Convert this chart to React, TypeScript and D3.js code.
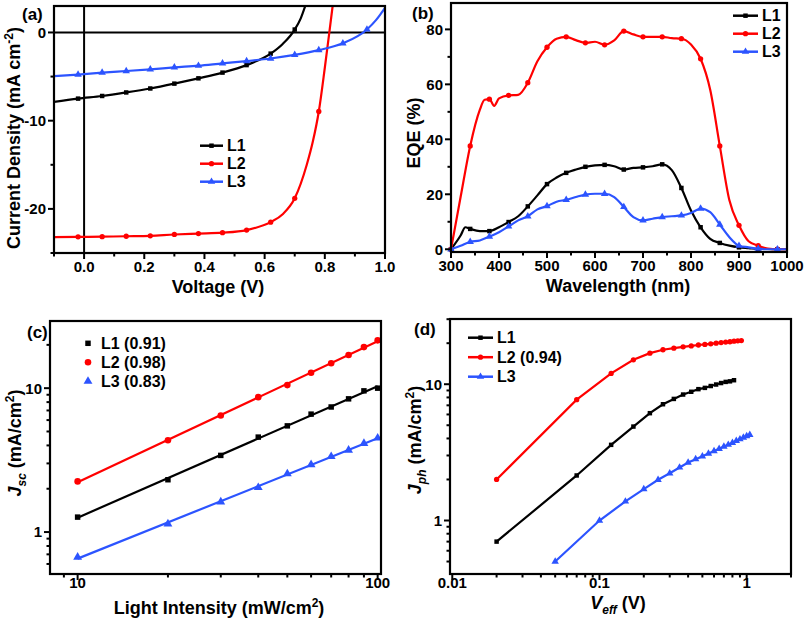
import React from 'react';
import * as d3 from 'd3';

const FONT = "'Liberation Sans', Arial, Helvetica, sans-serif";
const BLACK = '#000000';
const RED = '#ff0000';
const BLUE = '#2c54ff';
const SERIES_NAMES = ['L1', 'L2', 'L3'];
const SERIES_COLORS = [BLACK, RED, BLUE];
const SERIES_SHAPES = ['square', 'circle', 'triangle'];

// ---------- (a) J-V ----------
const jvMarkerV = [-0.02, 0.06, 0.14, 0.22, 0.3, 0.38, 0.46, 0.54, 0.62, 0.7, 0.78, 0.86, 0.94];
const jvL1V = [-0.1, -0.02, 0.06, 0.14, 0.22, 0.3, 0.38, 0.46, 0.54, 0.62, 0.66, 0.7, 0.72, 0.735];
const jvL1J = [-7.87, -7.5, -7.2, -6.8, -6.35, -5.8, -5.2, -4.55, -3.7, -2.4, -1.3, 0.33, 1.6, 3.0];
const jvL2V = [-0.1, -0.02, 0.06, 0.14, 0.22, 0.3, 0.38, 0.46, 0.54, 0.62, 0.66, 0.7, 0.74, 0.76, 0.78, 0.8, 0.815, 0.826];
const jvL2J = [-23.2, -23.17, -23.15, -23.1, -23.05, -22.9, -22.8, -22.7, -22.4, -21.5, -20.6, -18.8, -15.0, -12.4, -8.96, -4.0, 0, 3.0];
const jvL3V = [-0.1, -0.02, 0.06, 0.14, 0.22, 0.3, 0.38, 0.46, 0.54, 0.62, 0.7, 0.78, 0.86, 0.94, 0.97, 1.0];
const jvL3J = [-4.96, -4.78, -4.55, -4.37, -4.18, -3.96, -3.77, -3.5, -3.25, -2.95, -2.54, -2.0, -1.23, 0.34, 1.4, 2.8];
const aXMajor = [0, 0.2, 0.4, 0.6, 0.8, 1.0];
const aXMinor = [-0.1, 0.1, 0.3, 0.5, 0.7, 0.9];
const aYMajor = [0, -10, -20];
const aYMinor = [-5, -15, -25];

// ---------- (b) EQE ----------
const eqeMarkerWl = [300, 340, 380, 420, 460, 500, 540, 580, 620, 660, 700, 740, 780, 820, 860, 900, 940, 980];
const eqeL1Wl = [300, 320, 330, 340, 360, 380, 400, 420, 440, 460, 480, 500, 520, 540, 560, 580, 600, 620, 640, 660, 680, 700, 720, 740, 760, 780, 800, 820, 840, 860, 880, 900, 920, 940, 960, 980, 1000];
const eqeL1 = [0, 5, 8, 7.4, 6.6, 6.6, 8, 9.9, 12, 15.6, 19.6, 23.7, 26.1, 27.8, 29, 30, 30.5, 30.7, 30.2, 29, 29.6, 29.8, 30.2, 30.9, 28.8, 22.3, 14.1, 8, 3.8, 2.3, 1.3, 0.7, 0.4, 0.1, 0.1, 0, 0];
const eqeL2Wl = [300, 320, 340, 360, 370, 380, 390, 400, 420, 440, 460, 480, 500, 520, 540, 560, 580, 600, 620, 640, 660, 680, 700, 720, 740, 760, 780, 800, 820, 840, 860, 880, 900, 920, 940, 960, 980, 1000];
const eqeL2 = [0, 19, 37.6, 50.7, 54.4, 54.6, 52.2, 54.9, 56, 56.2, 60.6, 68.4, 73.5, 76.6, 77.3, 76.1, 75.1, 75.5, 74.4, 76, 79.4, 78.2, 77.3, 77.3, 77.3, 76.8, 76.6, 74.5, 69.3, 58, 37.6, 17.8, 8.7, 2.9, 1.3, 0.2, 0, 0];
const eqeL3Wl = [300, 320, 340, 360, 380, 400, 420, 440, 460, 480, 500, 520, 540, 560, 580, 600, 620, 640, 660, 680, 700, 720, 740, 760, 780, 800, 820, 840, 860, 880, 900, 920, 940, 960, 980, 1000];
const eqeL3 = [0, 1.3, 2.7, 3.2, 4.6, 6.2, 8.3, 10.5, 12, 14.5, 15.7, 17.3, 18, 19, 19.9, 20.2, 20.2, 19, 15.4, 11.7, 10.5, 11.1, 11.7, 12, 12.3, 13.2, 14.8, 13.5, 9, 4.4, 1.3, 0.7, 0.2, 0, 0, 0];
const bXMajor = [300, 400, 500, 600, 700, 800, 900, 1000];
const bXMinor = [350, 450, 550, 650, 750, 850, 950];
const bYMajor = [0, 20, 40, 60, 80];
const bYMinor = [10, 30, 50, 70];

// ---------- (c) Jsc vs light intensity ----------
const lightIntensity = [10, 20, 30, 40, 50, 60, 70, 80, 90, 100];
const jscL1 = [1.27, 2.31, 3.41, 4.57, 5.47, 6.6, 7.4, 8.43, 9.58, 10.0];
const jscL2 = [2.25, 4.35, 6.45, 8.66, 10.5, 12.8, 14.9, 17.0, 19.3, 21.5];
const jscL3 = [0.67, 1.14, 1.62, 2.04, 2.54, 2.94, 3.35, 3.71, 4.13, 4.5];
const cLegend = ['L1 (0.91)', 'L2 (0.98)', 'L3 (0.83)'];
const cXMajor = [10, 100];
const cXMinor = [9, 20, 30, 40, 50, 60, 70, 80, 90];
const cYMajor = [1, 10];
const cYMinor = [0.6, 0.7, 0.8, 0.9, 2, 3, 4, 5, 6, 7, 8, 9, 20];

// ---------- (d) Jph vs Veff ----------
const veffL1 = [0.02, 0.07, 0.12, 0.17, 0.22, 0.27, 0.32, 0.37, 0.42, 0.47, 0.52, 0.57, 0.62, 0.67, 0.72, 0.77, 0.82];
const jphL1 = [0.7, 2.14, 3.59, 4.89, 6.13, 7.13, 7.8, 8.4, 8.8, 9.2, 9.4, 9.7, 9.95, 10.2, 10.4, 10.5, 10.7];
const veffL2 = [0.02, 0.07, 0.12, 0.17, 0.22, 0.27, 0.32, 0.37, 0.42, 0.47, 0.52, 0.57, 0.62, 0.67, 0.72, 0.77, 0.82, 0.87, 0.92];
const jphL2 = [2.0, 7.7, 12.0, 15.1, 16.9, 17.9, 18.4, 18.8, 19.1, 19.4, 19.6, 19.8, 20.0, 20.2, 20.4, 20.5, 20.7, 20.8, 20.9];
const veffL3 = [0.05, 0.1, 0.15, 0.2, 0.25, 0.3, 0.35, 0.4, 0.45, 0.5, 0.55, 0.6, 0.65, 0.7, 0.75, 0.8, 0.85, 0.9, 0.95, 1.0, 1.05];
const jphL3 = [0.5, 1.0, 1.38, 1.7, 1.99, 2.22, 2.45, 2.66, 2.82, 2.96, 3.1, 3.23, 3.36, 3.49, 3.6, 3.72, 3.84, 3.95, 4.06, 4.16, 4.25];
const dLegend = ['L1', 'L2 (0.94)', 'L3'];
const dXMajor = [0.01, 0.1, 1];
const dXMinor = [0.02, 0.03, 0.04, 0.05, 0.06, 0.07, 0.08, 0.09, 0.2, 0.3, 0.4, 0.5, 0.6, 0.7, 0.8, 0.9, 2];
const dYMajor = [1, 10];
const dYMinor = [0.5, 0.6, 0.7, 0.8, 0.9, 2, 3, 4, 5, 6, 7, 8, 9, 20, 30];

function symPath(shape: string, size: number) {
  const t = shape === 'square' ? d3.symbolSquare : shape === 'circle' ? d3.symbolCircle : d3.symbolTriangle;
  return d3.symbol().type(t).size(size)() as string;
}

function Marker({ shape, x, y, color, size }: any) {
  return <path d={symPath(shape, size)} transform={`translate(${x},${y})`} fill={color} />;
}

function Axes({ x, y, xMajor, xMinor, yMajor, yMinor, xFmt, yFmt, xLabelY, yLabelX }: any) {
  const [x0, x1] = x.range();
  const [y0, y1] = y.range();
  return (
    <g>
      <rect x={x0} y={y1} width={x1 - x0} height={y0 - y1} fill="none" stroke="#000" strokeWidth={2.2} />
      {xMajor.map((v: number, i: number) => (
        <g key={'xm' + i}>
          <line x1={x(v)} x2={x(v)} y1={y0} y2={y0 + 6} stroke="#000" strokeWidth={2} />
          <text x={x(v)} y={xLabelY} textAnchor="middle" fontSize={15} fontWeight="bold" fontFamily={FONT}>{xFmt(v)}</text>
        </g>
      ))}
      {xMinor.map((v: number, i: number) => (
        <line key={'xn' + i} x1={x(v)} x2={x(v)} y1={y0} y2={y0 + 3.5} stroke="#000" strokeWidth={2} />
      ))}
      {yMajor.map((v: number, i: number) => (
        <g key={'ym' + i}>
          <line x1={x0} x2={x0 - 6} y1={y(v)} y2={y(v)} stroke="#000" strokeWidth={2} />
          <text x={yLabelX} y={y(v)} dy="0.36em" textAnchor="end" fontSize={15} fontWeight="bold" fontFamily={FONT}>{yFmt(v)}</text>
        </g>
      ))}
      {yMinor.map((v: number, i: number) => (
        <line key={'yn' + i} x1={x0} x2={x0 - 3.5} y1={y(v)} y2={y(v)} stroke="#000" strokeWidth={2} />
      ))}
    </g>
  );
}

function SeriesLine({ xs, ys, x, y, color, curve, clip, markerTest, shape, msize }: any) {
  const pts = xs.map((v: number, i: number) => [v, ys[i]]);
  const line = d3.line<number[]>().x((d) => x(d[0])).y((d) => y(d[1])).curve(curve);
  return (
    <g>
      <path d={line(pts) as string} fill="none" stroke={color} strokeWidth={2.2} clipPath={clip} />
      {pts.filter((d: number[]) => markerTest(d[0])).map((d: number[], i: number) => (
        <Marker key={i} shape={shape} x={x(d[0])} y={y(d[1])} color={color} size={msize} />
      ))}
    </g>
  );
}

function LegendRow({ x0, x1, tx, yy, color, shape, size, label, noLine }: any) {
  return (
    <g>
      {!noLine && <line x1={x0} x2={x1} y1={yy} y2={yy} stroke={color} strokeWidth={2.5} />}
      <Marker shape={shape} x={(x0 + x1) / 2} y={yy} color={color} size={size} />
      <text x={tx} y={yy} dy="0.36em" fontSize={16} fontWeight="bold" fontFamily={FONT}>{label}</text>
    </g>
  );
}

const near = (arr: number[]) => (v: number) => arr.some((a) => Math.abs(a - v) < 1e-6);

export default function App() {
  const ax = d3.scaleLinear().domain([-0.1, 1.0]).range([54, 385]);
  const ay = d3.scaleLinear().domain([-25, 3]).range([253, 6]);
  const bx = d3.scaleLinear().domain([300, 1000]).range([451, 787]);
  const by = d3.scaleLinear().domain([-1, 89.6]).range([252, 3]);
  const cx = d3.scaleLog().domain([8.09, 102.6]).range([50, 381]);
  const cy = d3.scaleLog().domain([0.511, 29.3]).range([574, 321]);
  const dx = d3.scaleLog().domain([0.00965, 2.0]).range([450, 791]);
  const dy = d3.scaleLog().domain([0.405, 30.1]).range([574, 319]);

  const jvSeries = [
    [jvL1V, jvL1J],
    [jvL2V, jvL2J],
    [jvL3V, jvL3J],
  ];
  const eqeSeries = [
    [eqeL1Wl, eqeL1],
    [eqeL2Wl, eqeL2],
    [eqeL3Wl, eqeL3],
  ];
  const jscSeries = [jscL1, jscL2, jscL3];
  const jphSeries = [
    [veffL1, jphL1],
    [veffL2, jphL2],
    [veffL3, jphL3],
  ];

  // log-log least-squares fit lines for (c)
  const fits = jscSeries.map((ys) => {
    const lx = lightIntensity.map(Math.log10);
    const ly = ys.map(Math.log10);
    const mx = d3.mean(lx) as number;
    const my = d3.mean(ly) as number;
    const s = d3.sum(lx.map((v, i) => (v - mx) * (ly[i] - my))) / d3.sum(lx.map((v) => (v - mx) ** 2));
    const b = my - s * mx;
    const xa = lightIntensity[0];
    const xb = lightIntensity[lightIntensity.length - 1];
    return [[xa, 10 ** (b + s * Math.log10(xa))], [xb, 10 ** (b + s * Math.log10(xb))]];
  });

  const aSizes = [20, 22, 24];
  const cSizes = [30, 34, 34];
  const jvMarker = near(jvMarkerV);
  const eqeMarker = near(eqeMarkerWl);

  return (
    <svg width={804} height={621} style={{ position: 'absolute', left: 0, top: 0, background: '#fff' }} fontFamily={FONT}>
      <defs>
        <clipPath id="clipA"><rect x={54} y={6} width={331} height={247} /></clipPath>
        <clipPath id="clipB"><rect x={451} y={3} width={336} height={249} /></clipPath>
      </defs>
      <rect width={804} height={621} fill="#fff" />

      {/* ===== (a) ===== */}
      <line x1={ax(-0.1)} x2={ax(1.0)} y1={ay(0)} y2={ay(0)} stroke="#000" strokeWidth={2} />
      <line x1={ax(0)} x2={ax(0)} y1={ay(-25)} y2={ay(3)} stroke="#000" strokeWidth={2} />
      {jvSeries.map((s, i) => (
        <SeriesLine key={i} xs={s[0]} ys={s[1]} x={ax} y={ay} color={SERIES_COLORS[i]} curve={d3.curveMonotoneX}
          clip="url(#clipA)" markerTest={jvMarker} shape={SERIES_SHAPES[i]} msize={aSizes[i]} />
      ))}
      <Axes x={ax} y={ay} xMajor={aXMajor} xMinor={aXMinor} yMajor={aYMajor} yMinor={aYMinor}
        xFmt={d3.format('.1f')} yFmt={(v: number) => String(v)} xLabelY={272} yLabelX={46} />
      {SERIES_NAMES.map((n, i) => (
        <LegendRow key={i} x0={200} x1={223} tx={227} yy={145.7 + i * 18} color={SERIES_COLORS[i]} shape={SERIES_SHAPES[i]} size={aSizes[i]} label={n} />
      ))}
      <text x={22} y={20} fontSize={17} fontWeight="bold">(a)</text>
      <text transform="translate(20,138) rotate(-90)" textAnchor="middle" fontSize={18} fontWeight="bold">
        Current Density (mA cm<tspan dy={-7} fontSize={12}>-2</tspan><tspan dy={7}>)</tspan>
      </text>
      <text x={218} y={293} textAnchor="middle" fontSize={18} fontWeight="bold">Voltage (V)</text>

      {/* ===== (b) ===== */}
      {eqeSeries.map((s, i) => (
        <SeriesLine key={i} xs={s[0]} ys={s[1]} x={bx} y={by} color={SERIES_COLORS[i]} curve={d3.curveMonotoneX}
          clip="url(#clipB)" markerTest={eqeMarker} shape={SERIES_SHAPES[i]} msize={aSizes[i]} />
      ))}
      <Axes x={bx} y={by} xMajor={bXMajor} xMinor={bXMinor} yMajor={bYMajor} yMinor={bYMinor}
        xFmt={(v: number) => String(v)} yFmt={(v: number) => String(v)} xLabelY={271} yLabelX={443} />
      {SERIES_NAMES.map((n, i) => (
        <LegendRow key={i} x0={733} x1={758} tx={762} yy={15.7 + i * 18} color={SERIES_COLORS[i]} shape={SERIES_SHAPES[i]} size={aSizes[i]} label={n} />
      ))}
      <text x={412} y={19} fontSize={17} fontWeight="bold">(b)</text>
      <text transform="translate(420,133) rotate(-90)" textAnchor="middle" fontSize={18} fontWeight="bold">EQE (%)</text>
      <text x={618} y={292} textAnchor="middle" fontSize={18} fontWeight="bold">Wavelength (nm)</text>

      {/* ===== (c) ===== */}
      {fits.map((f, i) => (
        <line key={'f' + i} x1={cx(f[0][0])} y1={cy(f[0][1])} x2={cx(f[1][0])} y2={cy(f[1][1])} stroke={SERIES_COLORS[i]} strokeWidth={2.2} />
      ))}
      {jscSeries.map((ys, i) => (
        <g key={'c' + i}>
          {lightIntensity.map((v, j) => (
            <Marker key={j} shape={SERIES_SHAPES[i]} x={cx(v)} y={cy(ys[j])} color={SERIES_COLORS[i]} size={cSizes[i]} />
          ))}
        </g>
      ))}
      <Axes x={cx} y={cy} xMajor={cXMajor} xMinor={cXMinor} yMajor={cYMajor} yMinor={cYMinor}
        xFmt={(v: number) => String(v)} yFmt={(v: number) => String(v)} xLabelY={588} yLabelX={42} />
      {cLegend.map((n, i) => (
        <LegendRow key={i} x0={88} x1={88} tx={101} yy={343.3 + i * 19} color={SERIES_COLORS[i]} shape={SERIES_SHAPES[i]} size={cSizes[i]} label={n} noLine />
      ))}
      <text x={27} y={338} fontSize={17} fontWeight="bold">(c)</text>
      <text transform="translate(21,443) rotate(-90)" textAnchor="middle" fontSize={18} fontWeight="bold">
        <tspan fontStyle="italic">J</tspan><tspan dy={5} fontSize={12} fontStyle="italic">sc</tspan><tspan dy={-5}> (mA/cm</tspan><tspan dy={-7} fontSize={12}>2</tspan><tspan dy={7}>)</tspan>
      </text>
      <text x={219} y={614} textAnchor="middle" fontSize={18} fontWeight="bold">
        Light Intensity (mW/cm<tspan dy={-7} fontSize={12}>2</tspan><tspan dy={7}>)</tspan>
      </text>

      {/* ===== (d) ===== */}
      {jphSeries.map((s, i) => (
        <SeriesLine key={i} xs={s[0]} ys={s[1]} x={dx} y={dy} color={SERIES_COLORS[i]} curve={d3.curveLinear}
          clip={undefined} markerTest={() => true} shape={SERIES_SHAPES[i]} msize={aSizes[i]} />
      ))}
      <Axes x={dx} y={dy} xMajor={dXMajor} xMinor={dXMinor} yMajor={dYMajor} yMinor={dYMinor}
        xFmt={(v: number) => String(v)} yFmt={(v: number) => String(v)} xLabelY={588} yLabelX={442} />
      {dLegend.map((n, i) => (
        <LegendRow key={i} x0={468} x1={493} tx={497} yy={337.7 + i * 19.5} color={SERIES_COLORS[i]} shape={SERIES_SHAPES[i]} size={aSizes[i]} label={n} />
      ))}
      <text x={414} y={335} fontSize={17} fontWeight="bold">(d)</text>
      <text transform="translate(421,440) rotate(-90)" textAnchor="middle" fontSize={18} fontWeight="bold">
        <tspan fontStyle="italic">J</tspan><tspan dy={5} fontSize={12} fontStyle="italic">ph</tspan><tspan dy={-5}> (mA/cm</tspan><tspan dy={-7} fontSize={12}>2</tspan><tspan dy={7}>)</tspan>
      </text>
      <text x={618} y={609} textAnchor="middle" fontSize={18} fontWeight="bold">
        <tspan fontStyle="italic">V</tspan><tspan dy={5} fontSize={12} fontStyle="italic">eff</tspan><tspan dy={-5}> (V)</tspan>
      </text>
    </svg>
  );
}
